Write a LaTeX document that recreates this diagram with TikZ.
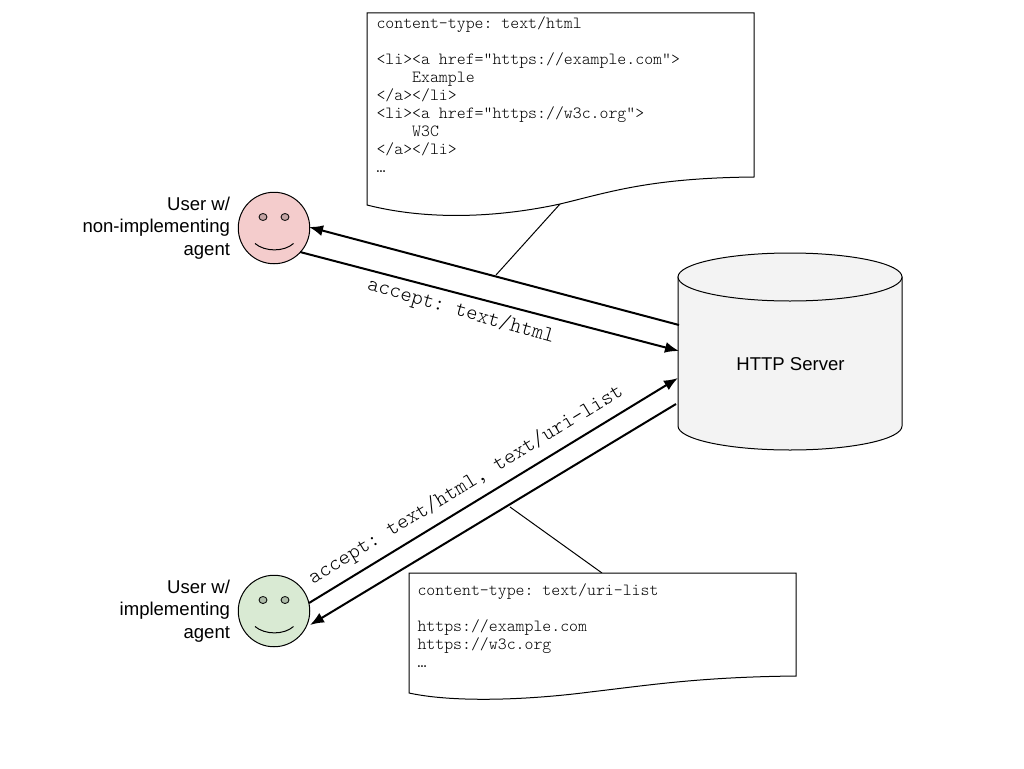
\documentclass[tikz,border=0pt]{standalone}
\usepackage{fontspec}
\setmainfont{Liberation Sans}
\newfontfamily\codefont{Latin Modern Mono Light}
\usetikzlibrary{arrows.meta}
\definecolor{pinkface}{HTML}{F4CCCC}
\definecolor{greenface}{HTML}{D9EAD3}
\definecolor{pinkeye}{HTML}{C3A3A3}
\definecolor{greeneye}{HTML}{ADBBA8}
\definecolor{serverfill}{HTML}{F3F3F3}
\tikzset{
  every node/.append style={inner sep=0pt,outer sep=0pt},
  codetext/.style={font=\fontsize{17}{18}\selectfont\codefont\frenchspacing,align=left,anchor=north west,text=black},
  sloped label/.style={font=\fontsize{21.7}{21.7}\selectfont\codefont\frenchspacing,text=black},
  person/.style={font=\fontsize{18.55}{22.5}\selectfont,align=right,anchor=east,text=black},
  doc/.style={draw=black,fill=white,line width=1pt},
  face/.style={circle,draw=black,line width=1pt,minimum size=71.5pt},
  eye/.style={draw=black,line width=.8pt,fill=#1},
  smile/.style={draw=black,line width=1pt},
  flow/.style={draw=black,line width=2pt,-{Latex[length=14pt,width=11pt]}},
  callout/.style={draw=black,line width=1pt},
  server/.style={draw=black,fill=serverfill,line width=1pt},
}
\begin{document}
\begin{tikzpicture}[x=1pt,y=-1pt]
\useasboundingbox (0,0) rectangle (1024,768);
\fill[white] (0,0) rectangle (1024,768);
% named anchors for connectors
\coordinate (srvOutA) at (679,325);
\coordinate (userAin) at (309,227);
\coordinate (userAout) at (300,252);
\coordinate (srvInA) at (679,351);
\coordinate (userBout) at (309,603);
\coordinate (srvInB) at (678,378);
\coordinate (srvOutB) at (676,404);
\coordinate (userBin) at (310,625);
\coordinate (docAfoot) at (560,204);
\coordinate (flowAtap) at (496,275);
\coordinate (flowBtap) at (510,507);
\coordinate (docBtop) at (602,573);
% callouts
\draw[callout] (docAfoot) -- (flowAtap);
\draw[callout] (flowBtap) -- (docBtop);
% documents
\draw[doc] (367,13) -- (754,13) -- (754,177)
  .. controls (650,178) and (610,192) .. (560,204)
  .. controls (500,217) and (430,221) .. (367,205) -- cycle;
\node[codetext] (docAtext) at (376.5,17) {content-type: text/html\\
\strut\\
<li><a href=”https://example.com”>\\
\hspace*{35.7pt}Example\\
</a></li>\\
<li><a href=”https://w3c.org”>\\
\hspace*{35.7pt}W3C\\
</a></li>\\
…};
\draw[doc] (409,573) -- (796,573) -- (796,676)
  .. controls (700,677) and (650,685) .. (590,692)
  .. controls (520,701) and (450,702) .. (409,693) -- cycle;
\node[codetext] (docBtext) at (417.5,584) {content-type: text/uri-list\\
\strut\\
https://example.com\\
https://w3c.org\\
…};
% server
\draw[server] (678,277) -- (678,426) arc[start angle=180,end angle=360,x radius=112,y radius=-24] -- (902,277) -- cycle;
\draw[server] (790,277) ellipse[x radius=112,y radius=24];
\node[font=\fontsize{18.55}{22.5}\selectfont] (serverLabel) at (790.5,364) {HTTP Server};
% users
\node[face,fill=pinkface] (userA) at (274,228) {};
\draw[eye=pinkeye] (263,217) ellipse[x radius=4,y radius=3.5];
\draw[eye=pinkeye] (285,217) ellipse[x radius=4,y radius=3.5];
\draw[smile] (255,243.5) .. controls (265,252) and (284,252) .. (293.5,243.5);
\node[face,fill=greenface] (userB) at (274,611) {};
\draw[eye=greeneye] (263,600) ellipse[x radius=4,y radius=3.5];
\draw[eye=greeneye] (285,600) ellipse[x radius=4,y radius=3.5];
\draw[smile] (255,626.5) .. controls (265,635) and (284,635) .. (293.5,626.5);
\node[person] (userAlabel) at (230,228) {User w/\\non-implementing\\agent};
\node[person] (userBlabel) at (230,611) {User w/\\implementing\\agent};
% flows
\draw[flow] (srvOutA) -- (userAin);
\draw[flow] (userAout) -- (srvInA);
\draw[flow] (userBout) -- (srvInB);
\draw[flow] (srvOutB) -- (userBin);
\node[sloped label,rotate=-16] (flowAlabel) at (461,311.5) {accept: text/html};
\node[sloped label,rotate=31.4] (flowBlabel) at (466,485) {accept: text/html, text/uri-list};
\end{tikzpicture}
\end{document}
